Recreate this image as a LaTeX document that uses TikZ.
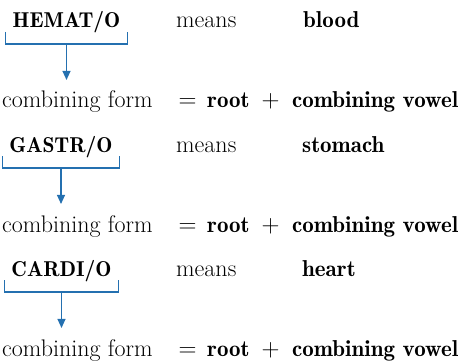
\documentclass[tikz,border=0pt]{standalone}
\usepackage{fontspec}
\newfontfamily\demifont{lmromandemi10-regular}[Extension=.otf]
\usetikzlibrary{arrows.meta,positioning}
\definecolor{bracketblue}{RGB}{36,112,176}
\tikzset{
	term/.style={font=\fontsize{23}{23}\selectfont\demifont, anchor=base, inner sep=0pt},
	head/.style={term, font=\fontsize{21.5}{23}\selectfont\demifont},
	plain/.style={font=\fontsize{24}{24}\selectfont, anchor=base west, inner sep=0pt},
	sign/.style={font=\fontsize{23}{23}\selectfont, anchor=base, inner sep=0pt},
	bracket/.style={draw=bracketblue, line width=1.1pt},
	pointer/.style={bracket, -{Triangle[width=8pt,length=9pt]}, shorten >=11pt},
}

\begin{document}
\begin{tikzpicture}[x=1pt,y=1pt]
		\useasboundingbox (0,0) rectangle (461,-361);
		% hemat/o
		\node[head] (hemat) at (66.5,-28) {HEMAT/O};
		\node[plain] (means1) at (176,-28) {means};
		\node[term, anchor=base west] (blood) at (303,-28) {blood};
		\node[plain] (form1) at (2,-108) {combining form};
		\node[sign] (eq1) at (187.5,-108) {$=$};
		\node[term, anchor=base west] (root1) at (207,-108) {root};
		\node[sign] (plus1) at (270.5,-108) {$+$};
		\node[term, anchor=base west] (vowel1) at (292,-108) {combining vowel};
		\draw[bracket] ([shift={(-7pt,-4pt)}]hemat.base west) -- ++(0,-12) -| ([shift={(7pt,-4pt)}]hemat.base east);
		\coordinate[below=16pt of hemat.base] (hematmid);
		\draw[pointer] (hematmid) -- (hematmid |- form1.north);
		% gastr/o
		\node[head] (gastr) at (61,-152) {GASTR/O};
		\node[plain] (means2) at (176,-152) {means};
		\node[term, anchor=base west] (stomach) at (302,-152) {stomach};
		\node[plain] (form2) at (2,-232) {combining form};
		\node[sign] (eq2) at (187.5,-232) {$=$};
		\node[term, anchor=base west] (root2) at (207,-232) {root};
		\node[sign] (plus2) at (270.5,-232) {$+$};
		\node[term, anchor=base west] (vowel2) at (292,-232) {combining vowel};
		\draw[bracket] ([shift={(-7pt,-4pt)}]gastr.base west) -- ++(0,-12) -| ([shift={(7pt,-4pt)}]gastr.base east);
		\coordinate[below=16pt of gastr.base] (gastrmid);
		\draw[pointer] (gastrmid) -- (gastrmid |- form2.north);
		% cardi/o
		\node[head] (cardi) at (61.5,-276) {CARDI/O};
		\node[plain] (means3) at (176,-276) {means};
		\node[term, anchor=base west] (heart) at (302,-276) {heart};
		\node[plain] (form3) at (2,-356) {combining form};
		\node[sign] (eq3) at (187.5,-356) {$=$};
		\node[term, anchor=base west] (root3) at (207,-356) {root};
		\node[sign] (plus3) at (270.5,-356) {$+$};
		\node[term, anchor=base west] (vowel3) at (292,-356) {combining vowel};
		\draw[bracket] ([shift={(-7pt,-4pt)}]cardi.base west) -- ++(0,-12) -| ([shift={(7pt,-4pt)}]cardi.base east);
		\coordinate[below=16pt of cardi.base] (cardimid);
		\draw[pointer] (cardimid) -- (cardimid |- form3.north);
\end{tikzpicture}
\end{document}
